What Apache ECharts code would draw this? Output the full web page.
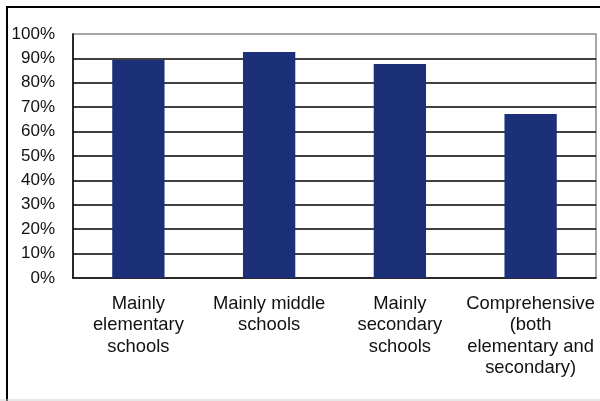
<!DOCTYPE html>
<html>
<head>
<meta charset="utf-8">
<script src="https://cdn.jsdelivr.net/npm/echarts@6/dist/echarts.min.js"></script>
<style>
  html, body { margin: 0; padding: 0; background: #fff; }
  #chart { width: 600px; height: 401px; }
</style>
</head>
<body>
<div id="chart"></div>
<script>
// School types and share of schools (percent)
const categories = [
  'Mainly\nelementary\nschools',
  'Mainly middle\nschools',
  'Mainly\nsecondary\nschools',
  'Comprehensive\n(both\nelementary and\nsecondary)'
];
const values = [89.3, 92.6, 87.7, 67.2];

const chart = echarts.init(document.getElementById('chart'), null, { renderer: 'canvas' });
const font = '"Liberation Sans", Arial, sans-serif';

chart.setOption({
  animation: false,
  backgroundColor: '#ffffff',
  grid: {
    left: 73, top: 34, right: 4, bottom: 123,
    show: true,
    borderColor: '#8a8a8a',
    borderWidth: 1.5,
    backgroundColor: 'transparent'
  },
  xAxis: {
    type: 'category',
    data: categories,
    axisTick: { show: false },
    axisLine: { show: true, lineStyle: { color: '#000', width: 1.5 } },
    axisLabel: {
      interval: 0,
      hideOverlap: false,
      margin: 15,
      fontFamily: font,
      fontSize: 18.4,
      lineHeight: 21.5,
      color: '#111',
      align: 'center'
    }
  },
  yAxis: {
    type: 'value',
    min: 0, max: 100, interval: 10,
    axisLine: { show: true, lineStyle: { color: '#000', width: 1.5 } },
    axisTick: { show: false },
    splitLine: {
      show: true,
      showMinLine: false,
      showMaxLine: false,
      lineStyle: { color: '#000', width: 1.5 }
    },
    axisLabel: {
      formatter: '{value}%',
      margin: 18,
      fontFamily: font,
      fontSize: 17,
      color: '#111'
    }
  },
  series: [{
    type: 'bar',
    data: values,
    barWidth: '40%',
    itemStyle: { color: '#1b3078' },
    z: 3
  }],
  graphic: [
    {
      type: 'rect',
      shape: { x: 7, y: 7, width: 620, height: 420 },
      style: { fill: null, stroke: '#000', lineWidth: 2 },
      silent: true
    },
    {
      type: 'line',
      shape: { x1: 0, y1: 400, x2: 600, y2: 400 },
      style: { stroke: '#d0d0d0', lineWidth: 1 },
      silent: true
    }
  ]
});
</script>
</body>
</html>
